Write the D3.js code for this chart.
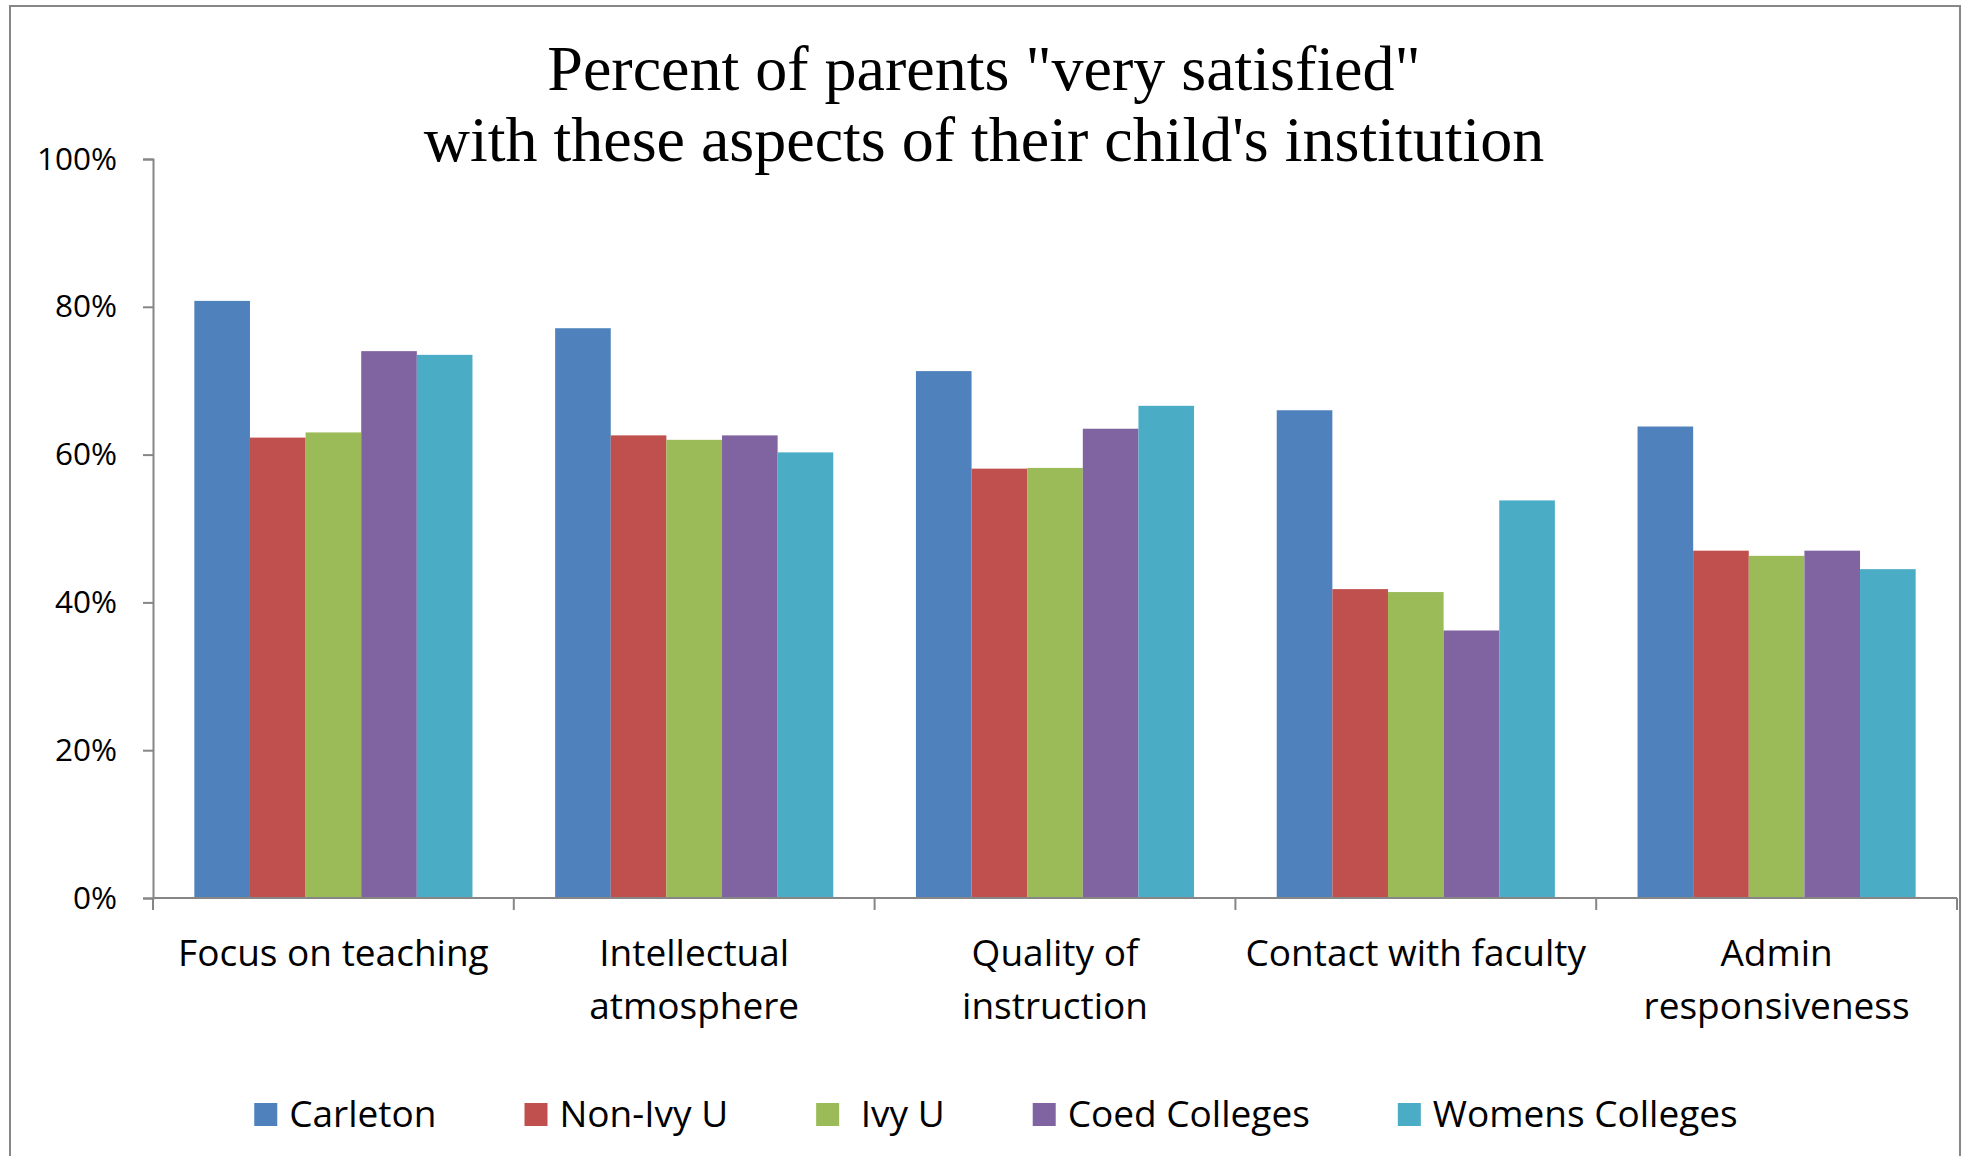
<!DOCTYPE html>
<html>
<head>
<meta charset="utf-8">
<script src="https://cdn.jsdelivr.net/npm/d3@7"></script>
<style>
  body { margin: 0; background: #fff; }
  .canva { width: 1967px; height: 1156px; }
</style>
</head>
<body>
<div class="canva"></div>
<script>
// data
const categories = [
  ["Focus on teaching"],
  ["Intellectual", "atmosphere"],
  ["Quality of", "instruction"],
  ["Contact with faculty"],
  ["Admin", "responsiveness"]
];
const seriesNames = ["Carleton", "Non-Ivy U", " Ivy U", "Coed Colleges", "Womens Colleges"];
const colors = ["#4F81BD", "#C0504D", "#9BBB59", "#8064A2", "#4BACC6"];
const carleton = [80.8, 77.1, 71.3, 66.0, 63.8];
const nonIvy = [62.3, 62.6, 58.1, 41.8, 47.0];
const ivy = [63.0, 62.0, 58.2, 41.4, 46.3];
const coed = [74.0, 62.6, 63.5, 36.2, 47.0];
const womens = [73.5, 60.3, 66.6, 53.8, 44.5];
const yTicks = [0, 20, 40, 60, 80, 100];

const series = [carleton, nonIvy, ivy, coed, womens];

const W = 1967, H = 1156;
const svg = d3.select(".canva").append("svg").attr("width", W).attr("height", H);

// chart frame
svg.append("rect")
  .attr("x", 10).attr("y", 6)
  .attr("width", 1950).attr("height", 1160)
  .attr("fill", "none")
  .attr("stroke", "#878787")
  .attr("stroke-width", 2);

const plotLeft = 153, plotRight = 1957, plotTop = 159, plotBottom = 898;

const x0 = d3.scaleBand().domain(d3.range(categories.length)).range([plotLeft, plotRight]).padding(0);
const x1 = d3.scaleBand().domain(d3.range(series.length)).range([0, x0.bandwidth()])
  .paddingInner(0).paddingOuter(0.743);
const y = d3.scaleLinear().domain([0, 100]).range([plotBottom, plotTop]);

// title
const title = svg.append("text")
  .attr("text-anchor", "middle")
  .attr("font-family", "Liberation Serif, Times New Roman, serif")
  .attr("font-size", 64)
  .attr("fill", "#000");
title.append("tspan").attr("x", 984).attr("y", 90).text('Percent of parents "very satisfied"');
title.append("tspan").attr("x", 984).attr("y", 161).text("with these aspects of their child's institution");

// bars
const groups = svg.append("g").selectAll("g")
  .data(categories)
  .join("g")
  .attr("transform", (d, i) => `translate(${x0(i)},0)`);

groups.selectAll("rect")
  .data((d, i) => series.map((s, k) => ({ k, v: s[i] })))
  .join("rect")
  .attr("x", d => x1(d.k))
  .attr("width", x1.bandwidth())
  .attr("y", d => y(d.v))
  .attr("height", d => plotBottom - y(d.v))
  .attr("fill", d => colors[d.k]);

// y axis
const yAxis = svg.append("g")
  .attr("transform", `translate(${plotLeft},0)`)
  .call(d3.axisLeft(y).tickValues(yTicks).tickFormat(d => d + "%").tickSize(10).tickPadding(26));
yAxis.select(".domain").attr("stroke", "#868686").attr("stroke-width", 2);
yAxis.selectAll(".tick line").attr("stroke", "#868686").attr("stroke-width", 2);
yAxis.selectAll(".tick text")
  .attr("font-family", "Open Sans, sans-serif")
  .attr("font-size", 31.5)
  .attr("fill", "#000");

// x axis: baseline + ticks at category boundaries
const xAxis = svg.append("g").attr("transform", `translate(0,${plotBottom})`);
xAxis.append("line")
  .attr("x1", plotLeft).attr("x2", plotRight)
  .attr("stroke", "#868686").attr("stroke-width", 2);
xAxis.selectAll(".bt")
  .data(d3.range(categories.length + 1))
  .join("line")
  .attr("class", "bt")
  .attr("x1", i => i < categories.length ? x0(i) : plotRight)
  .attr("x2", i => i < categories.length ? x0(i) : plotRight)
  .attr("y1", 0).attr("y2", 12)
  .attr("stroke", "#868686").attr("stroke-width", 2);

const catText = svg.append("g").selectAll("text")
  .data(categories)
  .join("text")
  .attr("text-anchor", "middle")
  .attr("font-family", "Open Sans, sans-serif")
  .attr("font-size", 37)
  .attr("fill", "#000");
catText.selectAll("tspan")
  .data((d, i) => d.map(line => ({ line, i })))
  .join("tspan")
  .attr("x", d => x0(d.i) + x0.bandwidth() / 2)
  .attr("y", (d, j) => 966 + j * 53)
  .text(d => d.line);

// legend
const legend = svg.append("g");
const items = legend.selectAll("g")
  .data(seriesNames)
  .join("g");
items.append("rect")
  .attr("width", 23).attr("height", 23)
  .attr("y", 1103)
  .attr("fill", (d, i) => colors[i]);
items.append("text")
  .attr("y", 1127)
  .attr("font-family", "Open Sans, sans-serif")
  .attr("font-size", 37)
  .attr("fill", "#000")
  .style("white-space", "pre")
  .text(d => d);

let cx = 0;
const offsets = [];
items.each(function (d, i) {
  const w = d3.select(this).select("text").node().getComputedTextLength();
  offsets.push(cx);
  cx += 35 + w + 88;
});
const total = cx - 88;
const start = 996 - total / 2;
items.each(function (d, i) {
  const g = d3.select(this);
  g.select("rect").attr("x", start + offsets[i]);
  g.select("text").attr("x", start + offsets[i] + 35);
});
</script>
</body>
</html>
